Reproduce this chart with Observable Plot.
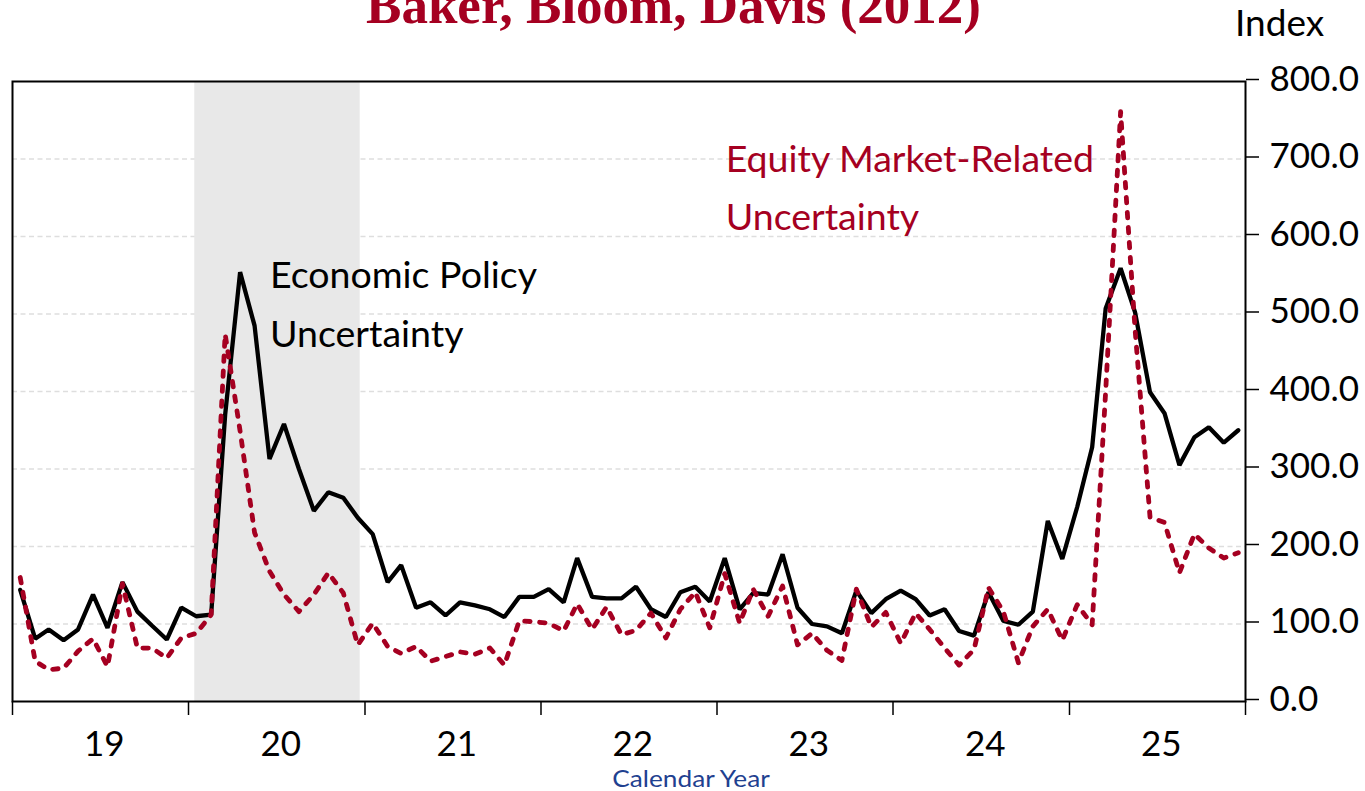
<!DOCTYPE html>
<html>
<head>
<meta charset="utf-8">
<script src="https://cdn.jsdelivr.net/npm/d3@7"></script>
<script src="https://cdn.jsdelivr.net/npm/@observablehq/plot@0.6"></script>
<style>
  html, body { margin: 0; padding: 0; background: #fff; }
  #wrap { position: relative; width: 1365px; height: 791px; overflow: hidden; background: #fff; }
  #wrap svg { position: absolute; left: 0; top: 0; }
  .lbl { position: absolute; white-space: nowrap; line-height: normal; }
  #title { font-family: "Liberation Serif", "Times New Roman", serif; font-weight: bold; font-size: 53px; color: #a50021; width: 1365px; left: -9px; text-align: center; top: -25px; }
  #ylabel { font-family: Lato, sans-serif; font-size: 37px; color: #000; left: 1235px; top: -1px; }
  #xlabel { font-family: Lato, sans-serif; font-size: 23px; color: #1f4190; left: 691px; top: 763.5px; transform: translateX(-50%) scaleX(1.14); }
</style>
</head>
<body>
<div id="wrap">
  <div id="title" class="lbl">Baker, Bloom, Davis (2012)</div>
  <div id="ylabel" class="lbl">Index</div>
  <div id="xlabel" class="lbl">Calendar Year</div>
</div>
<script>
// ---- data (monthly, Jan 2019 – Dec 2025) ----
const startMonth = "2019-01";
const epu = [
  144, 81, 93, 79, 93, 138, 95, 154, 116, 98, 80, 121,      // 2019
  110, 112, 370, 554, 485, 313, 358, 300, 246, 270, 263, 237, // 2020
  216, 154, 176, 121, 128, 111, 128, 124, 119, 109, 135, 135, // 2021
  145, 128, 185, 135, 133, 133, 148, 119, 109, 141, 148, 129, // 2022
  185, 119, 140, 138, 190, 121, 100, 97, 88, 143, 114, 132,   // 2023
  143, 132, 111, 119, 91, 85, 141, 104, 99, 116, 233, 184,    // 2024
  251, 328, 507, 559, 502, 399, 372, 305, 341, 354, 334, 350  // 2025
];
const emu = [
  160, 52, 41, 43, 65, 81, 45, 152, 69, 69, 56, 82,          // 2019
  88, 112, 474, 349, 218, 168, 138, 116, 138, 166, 140, 73,   // 2020
  101, 71, 62, 71, 52, 58, 64, 61, 69, 47, 104, 103,          // 2021
  101, 91, 126, 93, 122, 86, 92, 114, 82, 119, 141, 95,       // 2022
  165, 101, 145, 110, 149, 73, 88, 66, 53, 145, 96, 115,      // 2023
  75, 114, 93, 69, 47, 67, 147, 116, 50, 97, 119, 79,         // 2024
  125, 99, 400, 761, 480, 238, 231, 166, 216, 198, 185, 192   // 2025
];
const yearLabels = ["19", "20", "21", "22", "23", "24", "25"];
const yTicks = [0, 100, 200, 300, 400, 500, 600, 700, 800];
const gridValues = [100, 200, 300, 400, 500, 600, 700];
const shade = [{start: "2020-01-14", end: "2020-12-22"}];
const epuLabel = [
  {date: "2020-06-18", value: 534, text: "Economic Policy"},
  {date: "2020-06-18", value: 457, text: "Uncertainty"}
];
const emuLabel = [
  {date: "2023-01-19", value: 683, text: "Equity Market-Related"},
  {date: "2023-01-19", value: 608, text: "Uncertainty"}
];

// ---- build ----
const t0 = new Date(startMonth + "-01T00:00:00Z");
const months = d3.range(epu.length).map(i => d3.utcDay.offset(d3.utcMonth.offset(t0, i), 16));
const data = months.map((d, i) => ({date: d, epu: epu[i], emu: emu[i]}));
const yearStarts = d3.range(2019, 2027).map(y => new Date(Date.UTC(y, 0, 1)));
const midYears = d3.range(2019, 2026).map(y => new Date(Date.UTC(y, 6, 2)));
const shadeData = shade.map(s => ({x1: new Date(s.start + "T00:00:00Z"), x2: new Date(s.end + "T00:00:00Z")}));
const parse = arr => arr.map(a => ({...a, date: new Date(a.date + "T00:00:00Z")}));

const red = "#a50021";

const chart = Plot.plot({
  width: 1365,
  height: 791,
  marginLeft: 12,
  marginRight: 120,
  marginTop: 81,
  marginBottom: 90,
  style: {fontFamily: "Lato, sans-serif", fontSize: "35px", color: "#000", background: "transparent", overflow: "visible"},
  x: {type: "utc", domain: [yearStarts[0], yearStarts[yearStarts.length - 1]]},
  y: {domain: [0, 800]},
  marks: [
    Plot.ruleY(gridValues, {stroke: "#dedede", strokeWidth: 1.5, strokeDasharray: "5,3.5"}),
    Plot.rect(shadeData, {x1: "x1", x2: "x2", y1: 0, y2: 800, fill: "#e8e8e8"}),
    Plot.line(data, {x: "date", y: "epu", stroke: "#000", strokeWidth: 4.3, strokeLinejoin: "miter"}),
    Plot.line(data, {x: "date", y: "emu", stroke: red, strokeWidth: 4.8, strokeDasharray: "5.5,9.5", strokeLinecap: "round"}),
    Plot.frame({stroke: "#000", strokeWidth: 2}),
    Plot.axisY({anchor: "right", ticks: yTicks, tickSize: 13, tickPadding: 11, tickFormat: d => d.toFixed(1), label: null, fontSize: 35, dy: -2, strokeWidth: 1.5}),
    Plot.axisX({ticks: yearStarts, tickSize: 14, tickFormat: () => "", label: null, strokeWidth: 1.5}),
    Plot.axisX({ticks: midYears, tickSize: 0, tickPadding: 29.5, tickFormat: d => yearLabels[d.getUTCFullYear() - 2019], label: null, fontSize: 35, dx: 4}),
    Plot.text(parse(epuLabel), {x: "date", y: "value", text: "text", textAnchor: "start", lineAnchor: "bottom", fill: "#000", fontSize: 37.5}),
    Plot.text(parse(emuLabel), {x: "date", y: "value", text: "text", textAnchor: "start", lineAnchor: "bottom", fill: red, fontSize: 37.5})
  ]
});
document.getElementById("wrap").appendChild(chart);
</script>
</body>
</html>
